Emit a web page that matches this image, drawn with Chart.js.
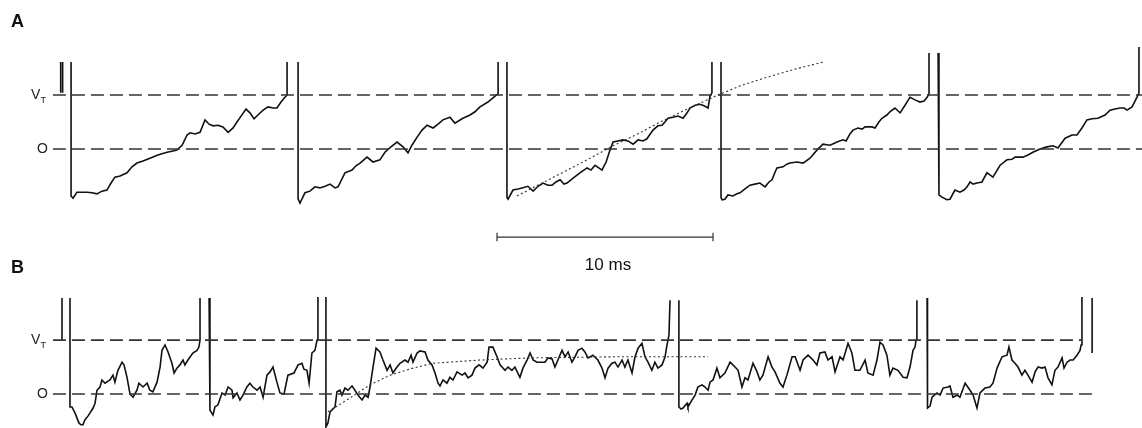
<!DOCTYPE html>
<html>
<head>
<meta charset="utf-8">
<script src="https://cdn.jsdelivr.net/npm/chart.js@4.4.0/dist/chart.umd.min.js"></script>
<style>
  body { margin: 0; background: #fff; }
  #wrap { position: relative; width: 1142px; height: 428px; font-family: "Liberation Sans", Arial, sans-serif; }
  .panel { position: absolute; left: 0; }
  .letter { position: absolute; left: 11px; font-weight: bold; font-size: 18px; line-height: 18px; color: #111; }
  #scaleLabel { position: absolute; left: 560px; width: 96px; top: 256px; text-align: center; font-size: 17px; line-height: 18px; color: #111; }
</style>
</head>
<body>
<div id="wrap">
  <canvas id="chartA" class="panel" width="1142" height="250" style="top:0"></canvas>
  <canvas id="chartB" class="panel" width="1142" height="178" style="top:250px"></canvas>
  <div class="letter" style="top:12px">A</div>
  <div class="letter" style="top:258px">B</div>
  <div id="scaleLabel">10 ms</div>
</div>
<script>
// time in ms, potential as fraction of threshold (0 = rest, 1 = V_T)
const stubA = [[-0.06, 1.04], [-0.06, 1.61], [0.0, null], [0.03, 1.61], [0.03, 1.04]];
const traceA1 = [[0.42,1.61],[0.42,-0.87],[0.51,-0.91],[0.69,-0.80],[0.93,-0.80],[1.16,-0.80],[1.39,-0.81],[1.62,-0.83],[1.85,-0.78],[2.08,-0.76],[2.27,-0.63],[2.45,-0.52],[2.69,-0.50],[3.01,-0.44],[3.24,-0.33],[3.47,-0.26],[3.75,-0.22],[4.07,-0.17],[4.44,-0.11],[4.86,-0.06],[5.09,-0.04],[5.32,-0.02],[5.56,0.07],[5.79,0.26],[5.93,0.30],[6.16,0.28],[6.39,0.31],[6.62,0.54],[6.81,0.46],[6.99,0.43],[7.22,0.44],[7.45,0.41],[7.69,0.31],[7.92,0.39],[8.10,0.50],[8.29,0.61],[8.52,0.74],[8.70,0.67],[8.89,0.56],[9.07,0.63],[9.31,0.72],[9.54,0.78],[9.77,0.76],[9.95,0.76],[10.14,0.87],[10.28,0.94],[10.42,1.00],[10.42,1.61]];
const traceA2 = [[10.93,1.61],[10.93,-0.92],[11.02,-1.00],[11.25,-0.81],[11.48,-0.78],[11.71,-0.70],[11.94,-0.72],[12.18,-0.69],[12.41,-0.65],[12.64,-0.72],[12.78,-0.70],[13.10,-0.44],[13.43,-0.39],[13.61,-0.31],[13.80,-0.26],[14.12,-0.15],[14.40,-0.24],[14.72,-0.20],[14.95,-0.06],[15.23,0.04],[15.51,0.13],[15.79,0.04],[16.02,-0.07],[16.20,0.07],[16.44,0.22],[16.67,0.35],[16.90,0.44],[17.18,0.39],[17.41,0.46],[17.64,0.54],[17.96,0.59],[18.19,0.48],[18.56,0.57],[18.89,0.63],[19.12,0.69],[19.35,0.78],[19.72,0.87],[20.05,0.98],[20.19,1.02],[20.19,1.61]];
const traceA3 = [[20.60,1.61],[20.60,-0.90],[20.65,-0.93],[20.88,-0.76],[21.11,-0.74],[21.30,-0.72],[21.57,-0.69],[21.81,-0.78],[22.04,-0.69],[22.27,-0.63],[22.50,-0.67],[22.69,-0.67],[22.87,-0.61],[23.06,-0.57],[23.24,-0.65],[23.38,-0.63],[23.66,-0.54],[23.98,-0.44],[24.31,-0.35],[24.49,-0.39],[24.68,-0.30],[25.00,-0.39],[25.19,-0.24],[25.37,-0.02],[25.51,0.13],[25.74,0.15],[25.97,0.17],[26.20,0.15],[26.44,0.09],[26.67,0.17],[26.90,0.15],[27.08,0.19],[27.36,0.35],[27.59,0.43],[27.78,0.44],[28.06,0.57],[28.29,0.59],[28.52,0.61],[28.75,0.57],[28.94,0.67],[29.07,0.76],[29.31,0.81],[29.54,0.83],[29.72,0.80],[29.91,0.76],[30.00,0.98],[30.09,1.04],[30.09,1.61]];
const traceA4 = [[30.51,1.61],[30.51,-0.90],[30.56,-0.94],[30.69,-0.93],[30.83,-0.85],[31.06,-0.87],[31.25,-0.83],[31.39,-0.81],[31.62,-0.74],[31.85,-0.67],[32.08,-0.65],[32.31,-0.63],[32.55,-0.70],[32.73,-0.61],[32.87,-0.57],[33.01,-0.43],[33.10,-0.35],[33.38,-0.33],[33.56,-0.28],[33.70,-0.26],[34.03,-0.24],[34.31,-0.26],[34.63,-0.17],[34.95,-0.02],[35.23,0.09],[35.56,0.07],[35.88,0.13],[36.16,0.17],[36.30,0.15],[36.48,0.28],[36.62,0.35],[36.85,0.39],[37.04,0.37],[37.18,0.41],[37.50,0.41],[37.64,0.39],[37.82,0.50],[37.96,0.57],[38.19,0.63],[38.33,0.69],[38.56,0.76],[38.80,0.67],[39.03,0.81],[39.26,0.96],[39.49,0.91],[39.72,0.87],[39.91,0.89],[40.05,0.96],[40.14,1.02],[40.14,1.78]];
const traceA5 = [[40.56,1.78],[40.60,-0.85],[40.74,-0.89],[40.97,-0.94],[41.11,-0.93],[41.34,-0.76],[41.57,-0.80],[41.76,-0.76],[41.90,-0.70],[42.04,-0.61],[42.18,-0.65],[42.36,-0.63],[42.59,-0.61],[42.82,-0.44],[42.96,-0.48],[43.10,-0.52],[43.43,-0.30],[43.75,-0.20],[43.98,-0.19],[44.12,-0.15],[44.49,-0.15],[44.72,-0.11],[44.95,-0.06],[45.28,0.00],[45.60,0.04],[45.88,0.06],[46.11,0.02],[46.44,0.20],[46.76,0.26],[46.99,0.26],[47.22,0.39],[47.45,0.54],[47.69,0.56],[47.96,0.57],[48.29,0.63],[48.52,0.72],[48.75,0.74],[48.98,0.76],[49.17,0.76],[49.31,0.72],[49.54,0.78],[49.77,0.96],[49.86,1.04],[49.86,1.89]];
const fitA = [[21.06,-0.87],[22.13,-0.65],[23.06,-0.46],[24.31,-0.20],[25.51,0.06],[26.76,0.30],[27.69,0.50],[28.94,0.74],[30.14,0.96],[31.39,1.17],[32.64,1.33],[33.94,1.48],[35.23,1.61]];

const stubB = [[0.00,1.78],[0.00,1.00]];
const traceB1 = [[0.37,1.78],[0.37,-0.24],[0.46,-0.24],[0.60,-0.35],[0.79,-0.54],[0.88,-0.57],[0.97,-0.57],[1.06,-0.48],[1.20,-0.41],[1.30,-0.35],[1.44,-0.26],[1.53,-0.17],[1.62,0.07],[1.76,0.13],[1.85,0.26],[1.99,0.20],[2.13,0.24],[2.22,0.26],[2.36,0.35],[2.45,0.22],[2.59,0.44],[2.78,0.59],[2.87,0.54],[3.01,0.31],[3.15,0.00],[3.29,-0.06],[3.47,0.07],[3.56,0.20],[3.75,0.13],[3.94,0.20],[4.07,0.07],[4.21,0.04],[4.40,0.22],[4.54,0.50],[4.63,0.81],[4.77,0.91],[4.91,0.78],[5.09,0.57],[5.19,0.39],[5.32,0.48],[5.46,0.54],[5.60,0.63],[5.69,0.54],[5.83,0.63],[6.06,0.76],[6.25,0.81],[6.34,0.87],[6.39,1.00],[6.39,1.78]];
const traceB2 = [[6.81,1.78],[6.85,-0.30],[6.99,-0.39],[7.08,-0.24],[7.22,-0.20],[7.41,0.02],[7.55,-0.02],[7.69,0.13],[7.87,0.07],[7.92,-0.07],[8.10,0.02],[8.24,-0.11],[8.38,-0.02],[8.56,0.13],[8.70,0.20],[8.84,0.13],[9.03,0.07],[9.17,0.13],[9.31,-0.06],[9.49,0.35],[9.63,0.41],[9.77,0.50],[9.95,0.22],[10.09,0.02],[10.28,0.00],[10.46,0.35],[10.74,0.39],[10.93,0.54],[11.11,0.57],[11.20,0.46],[11.34,0.44],[11.44,0.20],[11.57,0.76],[11.71,0.81],[11.81,1.00],[11.85,1.80]];
const traceB3 = [[12.22,1.80],[12.22,-0.61],[12.31,-0.54],[12.41,-0.33],[12.64,-0.24],[12.73,0.04],[12.87,0.07],[12.96,-0.02],[13.10,0.11],[13.24,0.07],[13.43,0.15],[13.56,0.07],[13.70,-0.02],[13.89,-0.11],[14.03,-0.02],[14.17,-0.06],[14.26,0.13],[14.40,0.50],[14.54,0.85],[14.72,0.78],[14.86,0.63],[15.05,0.44],[15.19,0.54],[15.32,0.39],[15.51,0.50],[15.65,0.57],[15.88,0.63],[16.02,0.59],[16.16,0.72],[16.25,0.59],[16.44,0.76],[16.57,0.80],[16.81,0.78],[16.94,0.63],[17.13,0.54],[17.27,0.39],[17.41,0.20],[17.50,0.15],[17.64,0.26],[17.82,0.20],[17.96,0.31],[18.10,0.26],[18.29,0.41],[18.52,0.35],[18.66,0.39],[18.80,0.30],[18.98,0.35],[19.12,0.48],[19.31,0.54],[19.49,0.48],[19.68,0.59],[19.77,0.87],[19.95,0.87],[20.14,0.69],[20.28,0.54],[20.51,0.44],[20.65,0.50],[20.83,0.44],[20.97,0.50],[21.20,0.31],[21.34,0.48],[21.53,0.63],[21.67,0.76],[21.81,0.63],[21.99,0.59],[22.13,0.59],[22.36,0.59],[22.50,0.67],[22.69,0.65],[22.82,0.50],[22.96,0.63],[23.15,0.81],[23.29,0.69],[23.43,0.78],[23.61,0.59],[23.75,0.69],[23.89,0.81],[24.07,0.85],[24.21,0.78],[24.35,0.67],[24.58,0.72],[24.81,0.63],[25.00,0.48],[25.14,0.30],[25.28,0.48],[25.46,0.57],[25.60,0.59],[25.74,0.50],[25.93,0.63],[26.06,0.50],[26.20,0.63],[26.39,0.39],[26.53,0.69],[26.67,0.85],[26.85,0.94],[26.99,0.69],[27.13,0.59],[27.31,0.44],[27.45,0.59],[27.59,0.48],[27.78,0.54],[27.92,0.69],[28.01,0.91],[28.10,1.09],[28.15,1.74]];
const traceB4 = [[28.56,1.74],[28.56,-0.24],[28.66,-0.28],[28.75,-0.26],[28.94,-0.17],[28.98,-0.24],[29.17,-0.11],[29.31,-0.02],[29.44,0.13],[29.63,0.17],[29.77,0.13],[29.91,0.07],[30.00,0.22],[30.14,0.26],[30.32,0.48],[30.46,0.30],[30.69,0.39],[30.93,0.59],[31.16,0.50],[31.30,0.44],[31.48,0.13],[31.62,0.30],[31.76,0.26],[31.99,0.57],[32.18,0.41],[32.31,0.26],[32.45,0.35],[32.69,0.69],[32.87,0.50],[33.01,0.41],[33.24,0.20],[33.38,0.13],[33.56,0.35],[33.80,0.69],[33.94,0.69],[34.17,0.44],[34.31,0.63],[34.54,0.72],[34.77,0.63],[34.95,0.54],[35.09,0.76],[35.32,0.78],[35.46,0.63],[35.65,0.69],[35.79,0.41],[36.02,0.69],[36.16,0.63],[36.39,0.94],[36.57,0.76],[36.71,0.44],[36.94,0.44],[37.18,0.63],[37.31,0.39],[37.55,0.35],[37.73,0.63],[37.87,0.96],[38.01,0.91],[38.19,0.72],[38.33,0.35],[38.47,0.48],[38.70,0.44],[38.94,0.31],[39.12,0.30],[39.26,0.50],[39.40,0.81],[39.49,0.87],[39.54,1.00],[39.58,1.74]];
const traceB5 = [[40.05,1.78],[40.05,-0.20],[40.09,-0.26],[40.19,-0.22],[40.28,-0.06],[40.51,0.02],[40.65,-0.02],[40.79,0.11],[41.02,0.13],[41.11,0.15],[41.25,-0.06],[41.44,-0.02],[41.57,-0.06],[41.81,0.20],[42.04,0.07],[42.18,-0.02],[42.36,-0.26],[42.50,0.02],[42.73,0.11],[42.96,0.13],[43.10,0.20],[43.29,0.48],[43.52,0.69],[43.75,0.72],[43.84,0.87],[43.98,0.63],[44.12,0.57],[44.26,0.50],[44.44,0.35],[44.58,0.44],[44.72,0.35],[44.91,0.22],[45.05,0.41],[45.19,0.50],[45.37,0.48],[45.51,0.50],[45.65,0.30],[45.83,0.17],[45.97,0.44],[46.11,0.50],[46.30,0.67],[46.39,0.48],[46.53,0.59],[46.67,0.63],[46.81,0.63],[46.99,0.72],[47.13,0.81],[47.18,0.91],[47.22,1.00],[47.22,1.80]];
const tailB = [[47.69,1.78],[47.69,0.76]];
const fitB = [[12.31,-0.33],[13.19,-0.11],[14.26,0.17],[15.19,0.35],[16.25,0.48],[17.18,0.57],[19.35,0.63],[21.67,0.67],[25.51,0.69],[29.91,0.69]];

// reference levels: [level, start ms, end ms]
const refLinesA = [[1, -0.42, 50.0], [0, -0.42, 50.0]];
const refLinesB = [[1, -0.42, 47.22], [0, -0.42, 47.92]];

const scaleBarStart = 20.14; // ms
const scaleBarLength = 10;   // ms
const scaleBarLevel = -1.63;

const xRange = [-2.87, 50.0];
const yRangeA = [-1.87, 2.76];
const yRangeB = [-0.63, 2.67];

const toPoints = (pairs) => pairs.map(([x, y]) => ({ x, y }));

const traceStyle = { borderColor: "#111", borderWidth: 1.6, pointRadius: 0, fill: false, tension: 0, spanGaps: false };
const fitStyle = { borderColor: "#333", borderWidth: 1.1, borderDash: [2, 2.5], pointRadius: 0, fill: false };
const refStyle = { borderColor: "#333", borderWidth: 1.6, borderDash: [13, 6], pointRadius: 0, fill: false };

function refDatasets(lines) {
  return lines.map(([level, start, end]) => ({
    ...refStyle,
    data: [{ x: start, y: level }, { x: end, y: level }],
  }));
}

const levelLabels = {
  id: "levelLabels",
  afterDraw(chart) {
    const { ctx } = chart;
    const y = chart.scales.y;
    ctx.save();
    ctx.fillStyle = "#222";
    ctx.textBaseline = "middle";
    ctx.font = "14px 'Liberation Sans', Arial, sans-serif";
    ctx.fillText("V", 31, y.getPixelForValue(1));
    ctx.font = "9px 'Liberation Sans', Arial, sans-serif";
    ctx.fillText("T", 40.5, y.getPixelForValue(1) + 5);
    ctx.font = "14px 'Liberation Sans', Arial, sans-serif";
    ctx.fillText("O", 37, y.getPixelForValue(0));
    ctx.restore();
  },
};

function makeChart(id, datasets, yRange) {
  return new Chart(document.getElementById(id), {
    type: "line",
    data: { datasets },
    options: {
      responsive: false,
      animation: false,
      layout: { padding: 0 },
      plugins: { legend: { display: false }, tooltip: { enabled: false } },
      scales: {
        x: { type: "linear", min: xRange[0], max: xRange[1], display: false },
        y: { type: "linear", min: yRange[0], max: yRange[1], display: false },
      },
    },
    plugins: [levelLabels],
  });
}

const scaleBarEnd = scaleBarStart + scaleBarLength;
const scaleBarDatasets = [
  [{ x: scaleBarStart, y: scaleBarLevel }, { x: scaleBarEnd, y: scaleBarLevel }],
  [{ x: scaleBarStart, y: scaleBarLevel - 0.08 }, { x: scaleBarStart, y: scaleBarLevel + 0.08 }],
  [{ x: scaleBarEnd, y: scaleBarLevel - 0.08 }, { x: scaleBarEnd, y: scaleBarLevel + 0.08 }],
].map((data) => ({ borderColor: "#333", borderWidth: 1.2, pointRadius: 0, data }));

makeChart("chartA", [
  ...refDatasets(refLinesA),
  { ...fitStyle, data: toPoints(fitA) },
  ...[stubA, traceA1, traceA2, traceA3, traceA4, traceA5].map((t) => ({ ...traceStyle, data: toPoints(t) })),
  ...scaleBarDatasets,
], yRangeA);

makeChart("chartB", [
  ...refDatasets(refLinesB),
  { ...fitStyle, data: toPoints(fitB) },
  ...[stubB, traceB1, traceB2, traceB3, traceB4, traceB5, tailB].map((t) => ({ ...traceStyle, data: toPoints(t) })),
], yRangeB);
</script>
</body>
</html>
